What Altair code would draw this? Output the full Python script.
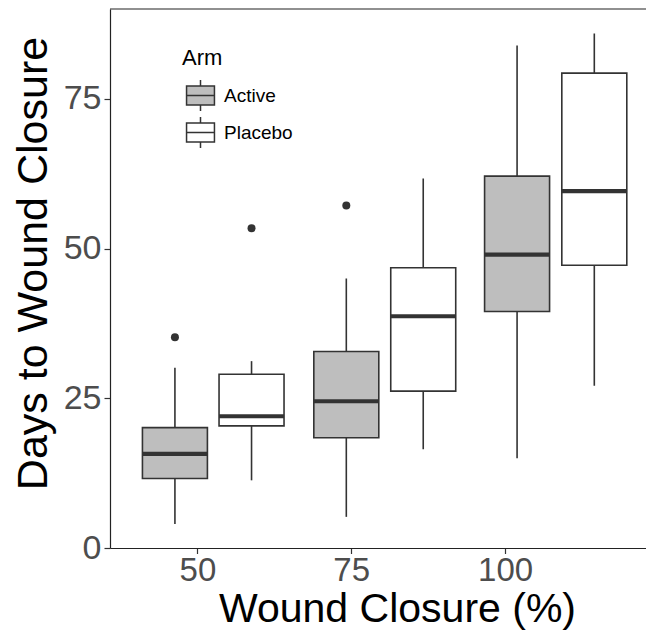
import altair as alt
import pandas as pd

# ---- data ----
arm_levels = ["Active", "Placebo"]
closure_ticks = [50, 75, 100]

arm = ["Active", "Placebo", "Active", "Placebo", "Active", "Placebo"]
box_x = [46.35, 58.8, 74.2, 86.7, 101.95, 114.5]   # box centres on the closure axis
whisker_low = [4.0, 11.3, 5.2, 16.5, 15.0, 27.1]
q1 = [11.6, 20.4, 18.4, 26.2, 39.5, 47.2]
median = [15.7, 22.0, 24.5, 38.7, 49.0, 59.6]
q3 = [20.1, 29.0, 32.8, 46.8, 62.1, 79.3]
whisker_high = [30.1, 31.2, 45.0, 61.7, 83.9, 85.9]

out_x = [46.35, 58.8, 74.2]
out_arm = ["Active", "Placebo", "Active"]
out_value = [35.2, 53.4, 57.2]

# ---- layout ----
HALF = 5.28         # half box width in axis units
W, H = 536, 539

box = pd.DataFrame({
    "arm": arm, "x": box_x, "lo": whisker_low, "q1": q1,
    "med": median, "q3": q3, "hi": whisker_high,
})
box["xl"] = box["x"] - HALF
box["xr"] = box["x"] + HALF

outl = pd.DataFrame({"arm": out_arm, "x": out_x, "v": out_value})

xscale = alt.Scale(domain=[35.8, 122.9], nice=False, zero=False)
xaxis = alt.Axis(values=closure_ticks, title="Wound Closure (%)", titleX=287)
yscale = alt.Scale(domain=[0, 90], nice=False, zero=False)
yaxis = alt.Axis(values=[0, 25, 50, 75], title="Days to Wound Closure", titleY=254)

STROKE = "#333333"

whiskers = alt.Chart(box).mark_rule(color=STROKE, strokeWidth=1.6).encode(
    x=alt.X("x:Q", scale=xscale, axis=xaxis),
    y=alt.Y("lo:Q", scale=yscale, axis=yaxis),
    y2="hi:Q",
)

path = "M-0.9,-0.61H0.9V0.61H-0.9Z M-0.9,0H0.9 M0,-0.61V-1 M0,0.61V1"

boxes = alt.Chart(box).mark_bar(stroke=STROKE, strokeWidth=1.6, opacity=1).encode(
    x=alt.X("xl:Q", scale=xscale, axis=xaxis),
    x2="xr:Q",
    y=alt.Y("q1:Q", scale=yscale, axis=yaxis),
    y2="q3:Q",
    fill=alt.Fill(
        "arm:N",
        scale=alt.Scale(domain=arm_levels, range=["#BEBEBE", "#FFFFFF"]),
        legend=alt.Legend(
            title="Arm", orient="none", legendX=72, legendY=39,
            symbolType=path, symbolSize=961, symbolStrokeColor=STROKE,
            symbolStrokeWidth=1.5, symbolOffset=2,
            labelFontSize=19, titleFontSize=22, titleFontWeight="normal",
            titlePadding=9, rowPadding=0, labelOffset=7, padding=0,
            labelColor="black", titleColor="black",
            labelFont="Liberation Sans", titleFont="Liberation Sans",
        ),
    ),
)

medians = alt.Chart(box).mark_rule(color=STROKE, strokeWidth=4.2).encode(
    x=alt.X("xl:Q", scale=xscale, axis=xaxis),
    x2="xr:Q",
    y=alt.Y("med:Q", scale=yscale, axis=yaxis),
)

points = alt.Chart(outl).mark_circle(color=STROKE, size=64, opacity=1).encode(
    x=alt.X("x:Q", scale=xscale, axis=xaxis),
    y=alt.Y("v:Q", scale=yscale, axis=yaxis),
)

top = alt.Chart(pd.DataFrame({"t": [90]})).mark_rule(color="#222222", strokeWidth=1.2).encode(
    y=alt.Y("t:Q", scale=yscale, axis=yaxis),
    x=alt.value(0),
    x2=alt.value(W),
)

chart = (
    alt.layer(whiskers, boxes, medians, points, top)
    .properties(
        width=W, height=H,
        autosize=alt.AutoSizeParams(type="none"),
        padding={"left": 102, "top": 1, "right": 0, "bottom": 82},
    )
    .configure_view(stroke=None)
    .configure_axis(
        grid=False,
        domainColor="#222222", domainWidth=1.2,
        tickColor=STROKE, tickWidth=1.2,
        labelFont="Liberation Sans", titleFont="Liberation Sans",
        labelColor="#4D4D4D",
        titleColor="black", titleFontWeight="normal",
    )
    .configure_axisX(titlePadding=2, titleFontSize=41, tickSize=5.5,
                     labelPadding=1, labelFontSize=33)
    .configure_axisY(titlePadding=8, titleFontSize=43, tickSize=6,
                     labelPadding=3, labelFontSize=34)
)

chart.save("out.html", embed_options={"renderer": "svg", "actions": False})
